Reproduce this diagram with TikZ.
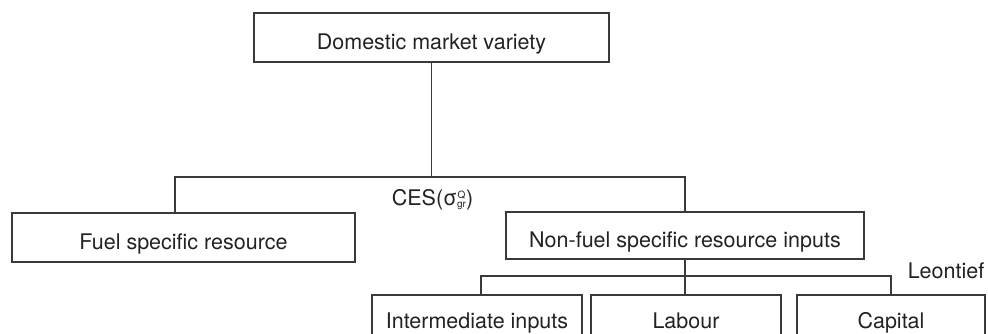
\documentclass[tikz,border=0pt]{standalone}
\usepackage{fontspec}
\usepackage{tikz}
\usetikzlibrary{positioning,calc}
\setmainfont{TeX Gyre Heros}
\definecolor{linegray}{HTML}{3A3A3A}
\definecolor{textgray}{HTML}{222222}

\begin{document}
\begin{tikzpicture}[
    x=1pt, y=-1pt,
    box/.style={draw=linegray, line width=1.2pt, minimum height=49pt, inner sep=0pt, text=textgray, font=\fontsize{21.5}{24}\selectfont, text height=23pt, text depth=0pt},
    link/.style={draw=linegray, line width=1.2pt},
    lbl/.style={text=textgray, font=\fontsize{21.5}{24}\selectfont, inner sep=0pt, anchor=base}
]
\useasboundingbox (0,0) rectangle (988,333);
\clip (0,0) rectangle (988,333);
\node[box, minimum width=355pt] (dom) at (431.5,37.5) {Domestic market variety};
\node[box, minimum width=343pt] (fuel) at (183.5,237.5) {Fuel specific resource};
\node[box, minimum width=358pt, minimum height=47pt] (nonfuel) at (685,235.5) {Non-fuel specific resource inputs};
\node[box, minimum width=210pt, minimum height=43pt] (inter) at (477,316.5) {Intermediate inputs};
\node[box, minimum width=190pt, minimum height=43pt] (labour) at (686,316.5) {Labour};
\node[box, minimum width=188pt, minimum height=43pt] (capital) at (891,316.5) {Capital};
\node[lbl] (cesl) at (432.5,205.7) {CES(σ\rlap{\raisebox{7.5pt}{\hspace{0.6pt}\fontsize{10}{10}\selectfont Q}}\raisebox{-2pt}{\fontsize{10}{10}\selectfont gr})};
\node[lbl] (leol) at (946,278) {Leontief};
\coordinate (ces) at (431.5,177);
\coordinate (leo) at (685,276);
\draw[link] (dom.south) -- (ces);
\draw[link] ([xshift=-8.5pt]fuel.north) |- (ces) -| (nonfuel.north);
\draw[link] (nonfuel.south) -- (nonfuel.south |- labour.north);
\draw[link] ([xshift=4pt]inter.north) |- (leo) -| (capital.north);
\end{tikzpicture}
\end{document}
